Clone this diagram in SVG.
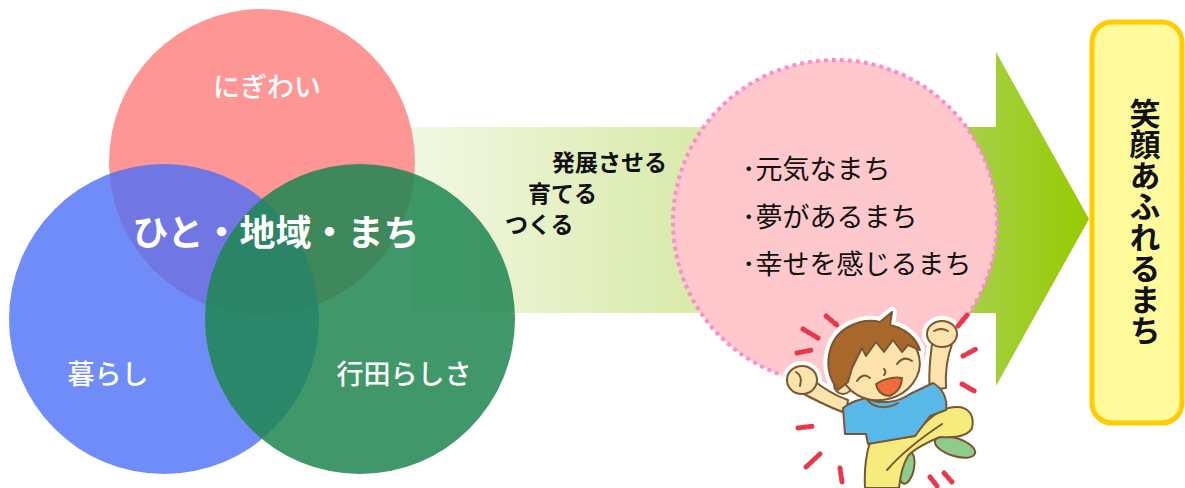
<svg xmlns="http://www.w3.org/2000/svg" width="1185" height="488" viewBox="0 0 1185 488">
  <defs>
    <linearGradient id="arrowFill" gradientUnits="userSpaceOnUse" x1="411" y1="0" x2="1089" y2="0">
      <stop offset="0" stop-color="#f2f8e2"/>
      <stop offset="0.45" stop-color="#d7e9a6"/>
      <stop offset="0.85" stop-color="#a3cf3c"/>
      <stop offset="1" stop-color="#97cb00"/>
    </linearGradient>
    <style>
      .jp { font-family: "Noto Sans CJK JP", "Noto Sans CJK SC", sans-serif; }
      .venn-label { fill: #ffffff; font-size: 27px; font-weight: 500; text-anchor: middle; }
      .core-label { fill: #ffffff; font-size: 36px; font-weight: 700; text-anchor: middle; }
      .verb { fill: #111111; font-size: 23px; font-weight: 700; }
      .wish { fill: #111111; font-size: 27px; font-weight: 400; }
      .goal-text { fill: #111111; font-size: 31px; font-weight: 700; text-anchor: middle; writing-mode: vertical-rl; }
      .ink { stroke: #7a5634; stroke-width: 2; stroke-linejoin: round; stroke-linecap: round; }
      .skin { fill: #fde4ad; }
      .spark { fill: none; stroke: #e8394c; stroke-width: 5; stroke-linecap: round; stroke-dasharray: 3 2.5; }
    </style>
    <!-- boy silhouette parts, reused for the white halo and the coloured drawing -->
    <g id="boySil">
      <ellipse id="b-shoeR" cx="955" cy="447" rx="21" ry="9" transform="rotate(18 955 447)"/>
      <ellipse id="b-shoeL" cx="907" cy="468" rx="7" ry="16" transform="rotate(12 907 468)"/>
      <path id="b-pants" d="M870 442 L915 436 C925 420 940 408 955 407 C968 406 975 415 972 428 C968 436 955 438 940 437 C928 442 915 448 908 456 C902 466 900 478 899 488 L865 488 C864 470 866 455 870 442 Z"/>
      <path id="b-armL" d="M800 392 C815 400 830 408 846 413 L848 400 C836 396 823 388 813 380 Z"/>
      <path id="b-armR" d="M932 344 C930 360 928 375 930 390 L946 388 C945 372 947 358 952 344 Z"/>
      <path id="b-shirt" d="M843 408 C850 402 858 400 866 398 C878 404 896 404 910 394 L933 383 C942 388 948 398 946 410 L930 416 L915 436 L868 444 L866 434 L845 434 Z"/>
      <ellipse id="b-fistL" cx="802" cy="380" rx="15" ry="14"/>
      <ellipse id="b-fistR" cx="942" cy="334" rx="15" ry="13"/>
      <circle id="b-ear" cx="843" cy="385" r="9"/>
      <ellipse id="b-face" cx="880" cy="365" rx="40" ry="35" transform="rotate(-12 880 365)"/>
      <path id="b-hair" d="M838 390 C822 370 826 338 850 326 C862 320 872 320 880 322 L892 312 L890 325 C905 328 916 338 920 350 L908 345 L902 352 L893 340 L884 352 L876 342 L866 356 L862 348 L852 368 L848 382 Z"/>
    </g>
  </defs>

  <rect width="1185" height="488" fill="#ffffff"/>

  <!-- flow arrow from the three circles towards the goal -->
  <g id="connectors">
    <path id="flow-arrow" d="M411 127 L996 127 L996 52 L1089 219 L996 386 L996 313 L411 313 Z" fill="url(#arrowFill)"/>
    <g id="flow-labels" class="jp verb">
      <text x="552" y="171">発展させる</text>
      <text x="528" y="202">育てる</text>
      <text x="505" y="233">つくる</text>
    </g>
  </g>

  <!-- three overlapping circles -->
  <g id="circle-nigiwai">
    <circle cx="262" cy="162" r="153" fill="#ff9696"/>
    <text class="jp venn-label" x="267" y="97">にぎわい</text>
  </g>
  <g id="circle-kurashi">
    <circle cx="164" cy="319" r="155" fill="#4c6ff6" fill-opacity="0.8"/>
  </g>
  <g id="circle-gyodarashisa">
    <circle cx="360" cy="319" r="155" fill="#1f8652" fill-opacity="0.86"/>
  </g>
  <g id="venn-labels" class="jp">
    <text class="venn-label" x="108" y="384">暮らし</text>
    <text class="venn-label" x="404" y="384">行田らしさ</text>
    <text class="core-label" x="276" y="246">ひと・地域・まち</text>
  </g>

  <!-- the town we aim for -->
  <g id="wish-circle">
    <circle cx="835" cy="222" r="162" fill="#ffc8cc" stroke="#ff8ccc" stroke-width="4" stroke-dasharray="4 4"/>
    <g class="jp wish">
      <text x="742" y="179">･元気なまち</text>
      <text x="742" y="227">･夢があるまち</text>
      <text x="742" y="274">･幸せを感じるまち</text>
    </g>
  </g>

  <!-- cheering boy -->
  <g id="boy">
    <use href="#boySil" fill="#ffffff" stroke="#ffffff" stroke-width="10" stroke-linejoin="round"/>
    <use href="#b-shoeR" fill="#8fcc8c" class="ink"/>
    <use href="#b-shoeL" fill="#8fcc8c" class="ink"/>
    <use href="#b-pants" fill="#f6ec7e" class="ink"/>
    <path d="M887 470 C900 455 918 440 942 424" fill="none" class="ink"/>
    <use href="#b-armL" class="skin ink"/>
    <use href="#b-armR" class="skin ink"/>
    <use href="#b-shirt" fill="#58b8e8" class="ink"/>
    <path d="M866 398 C872 408 886 410 898 403" fill="none" class="ink"/>
    <use href="#b-fistL" class="skin ink"/>
    <path d="M796 372 Q803 376 800 386" fill="none" class="ink"/>
    <use href="#b-fistR" class="skin ink"/>
    <path d="M934 331 Q941 327 948 331" fill="none" class="ink"/>
    <use href="#b-ear" class="skin ink"/>
    <use href="#b-face" class="skin ink"/>
    <use href="#b-hair" fill="#a8682c" class="ink"/>
    <path d="M857 381 Q863 372 870 378" fill="none" class="ink"/>
    <path d="M897 364 Q904 355 912 361" fill="none" class="ink"/>
    <path d="M884 369 Q887 372 884 375" fill="none" class="ink"/>
    <path d="M876 384 Q889 376 902 378 Q901 392 889 396 Q878 395 876 384 Z" fill="#f26b3a" class="ink"/>
    <g id="sparkles" class="spark">
      <path d="M826 316 L838 326"/>
      <path d="M803 329 L818 338"/>
      <path d="M797 353 L812 350"/>
      <path d="M958 326 L968 314"/>
      <path d="M963 356 L976 349"/>
      <path d="M962 384 L976 392"/>
      <path d="M798 428 L814 426"/>
      <path d="M806 467 L820 454"/>
      <path d="M840 468 L842 482"/>
      <path d="M930 477 L937 486"/>
      <path d="M944 473 L952 482"/>
    </g>
  </g>

  <!-- goal box -->
  <g id="goal-box">
    <rect x="1092" y="22" width="90" height="401" rx="20" fill="#fffa9c" stroke="#ffcc00" stroke-width="5"/>
    <text class="jp goal-text" x="1145" y="222">笑顔あふれるまち</text>
  </g>
</svg>
